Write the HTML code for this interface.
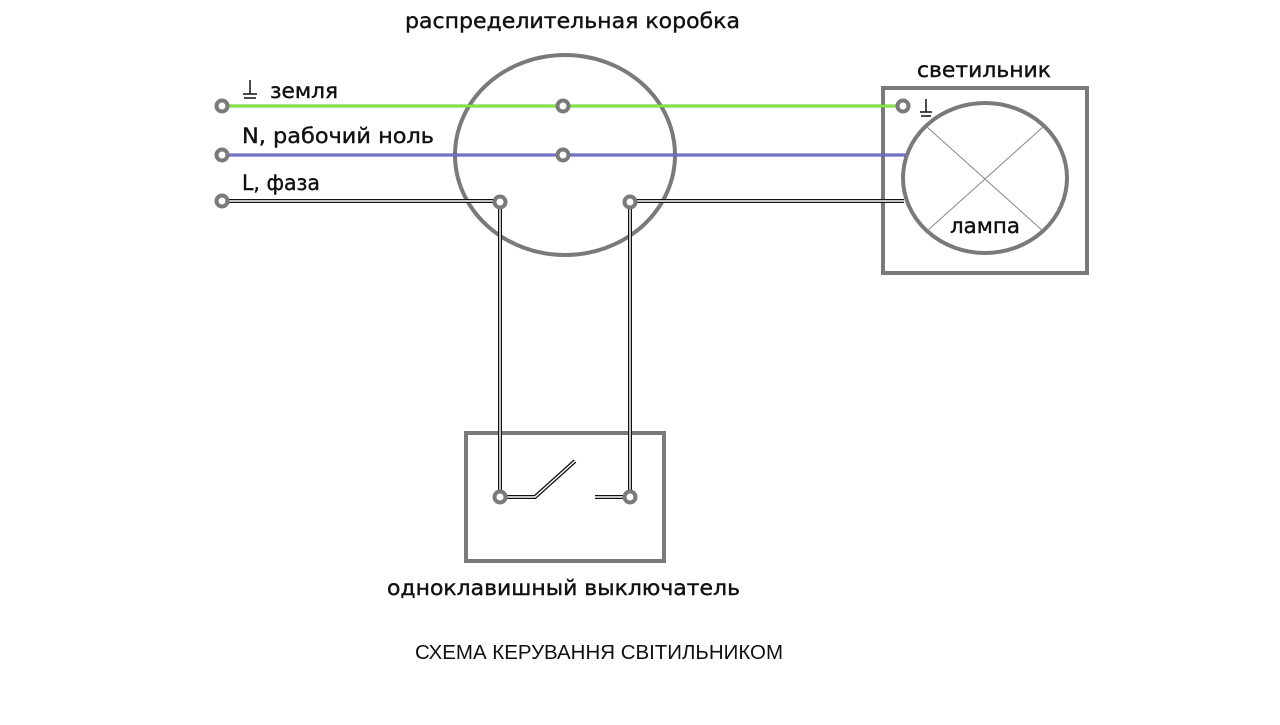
<!DOCTYPE html>
<html><head><meta charset="utf-8"><style>
body{margin:0;background:#fff;}
svg text{font-family:"DejaVu Sans","Liberation Sans",sans-serif;fill:#111;}
</style></head><body>
<svg width="1280" height="720" viewBox="0 0 1280 720" xmlns="http://www.w3.org/2000/svg">
<g fill="none">
<ellipse cx="565" cy="155" rx="110" ry="100" stroke="#7a7a7a" stroke-width="4"/>
<rect x="883" y="88" width="204" height="185" stroke="#7a7a7a" stroke-width="4"/>
<ellipse cx="985" cy="178" rx="82" ry="75" stroke="#7a7a7a" stroke-width="4"/>
<line x1="927" y1="127" x2="1043" y2="231" stroke="#888" stroke-width="1"/>
<line x1="1043" y1="127" x2="927" y2="231" stroke="#888" stroke-width="1"/>
<rect x="466" y="433" width="198" height="128" stroke="#7a7a7a" stroke-width="4"/>
<line x1="222" y1="106" x2="903" y2="106" stroke="#5ad11a" stroke-width="3"/>
<line x1="222" y1="106" x2="903" y2="106" stroke="#b7f07a" stroke-width="1"/>
<line x1="222" y1="155" x2="906" y2="155" stroke="#4a4ab0" stroke-width="3"/>
<line x1="222" y1="155" x2="906" y2="155" stroke="#9a9ad8" stroke-width="1"/>
<g stroke="#111" stroke-width="4">
<polyline points="222,201 500,201 500,497"/>
<polyline points="904,201 630,201 630,497"/>
<polyline points="500,497 535,497 575,461"/>
<line x1="595" y1="497" x2="630" y2="497"/>
</g>
<g stroke="#fff" stroke-width="1.5">
<polyline points="222,201 500,201 500,497"/>
<polyline points="904,201 630,201 630,497"/>
<polyline points="500,497 535,497 575,461"/>
<line x1="595" y1="497" x2="630" y2="497"/>
</g>
<g stroke="#7a7a7a" stroke-width="4" fill="#fff">
<circle cx="222" cy="106" r="5.5"/>
<circle cx="222" cy="155" r="5.5"/>
<circle cx="222" cy="201" r="5.5"/>
<circle cx="563" cy="106" r="5.5"/>
<circle cx="563" cy="155" r="5.5"/>
<circle cx="500" cy="202" r="5.5"/>
<circle cx="630" cy="202" r="5.5"/>
<circle cx="903" cy="106" r="5.5"/>
<circle cx="500" cy="497" r="5.5"/>
<circle cx="630" cy="497" r="5.5"/>
</g>
<g stroke="#111" stroke-width="1.5">
<line x1="250" y1="80" x2="250" y2="94"/><line x1="243" y1="94" x2="257" y2="94"/><line x1="244" y1="98" x2="256" y2="98"/>
<line x1="926" y1="99" x2="926" y2="112"/><line x1="920" y1="112" x2="932" y2="112"/><line x1="921" y1="116" x2="931" y2="116"/>
</g>
</g>
<g font-size="21" stroke="#111" stroke-width="0.4">
<text x="405" y="28" textLength="335" lengthAdjust="spacingAndGlyphs">распределительная коробка</text>
<text x="270" y="98" textLength="68" lengthAdjust="spacingAndGlyphs">земля</text>
<text x="242" y="143" textLength="192" lengthAdjust="spacingAndGlyphs">N, рабочий ноль</text>
<text x="242" y="190" textLength="78" lengthAdjust="spacingAndGlyphs">L, фаза</text>
<text x="917" y="77" textLength="134" lengthAdjust="spacingAndGlyphs">светильник</text>
<text x="950" y="233" textLength="70" lengthAdjust="spacingAndGlyphs">лампа</text>
<text x="387" y="595" textLength="353" lengthAdjust="spacingAndGlyphs">одноклавишный выключатель</text>
</g>
<text x="415" y="659" font-size="20" textLength="368" lengthAdjust="spacingAndGlyphs" style="font-family:'Liberation Sans',sans-serif">СХЕМА КЕРУВАННЯ СВІТИЛЬНИКОМ</text>
</svg>
</body></html>
